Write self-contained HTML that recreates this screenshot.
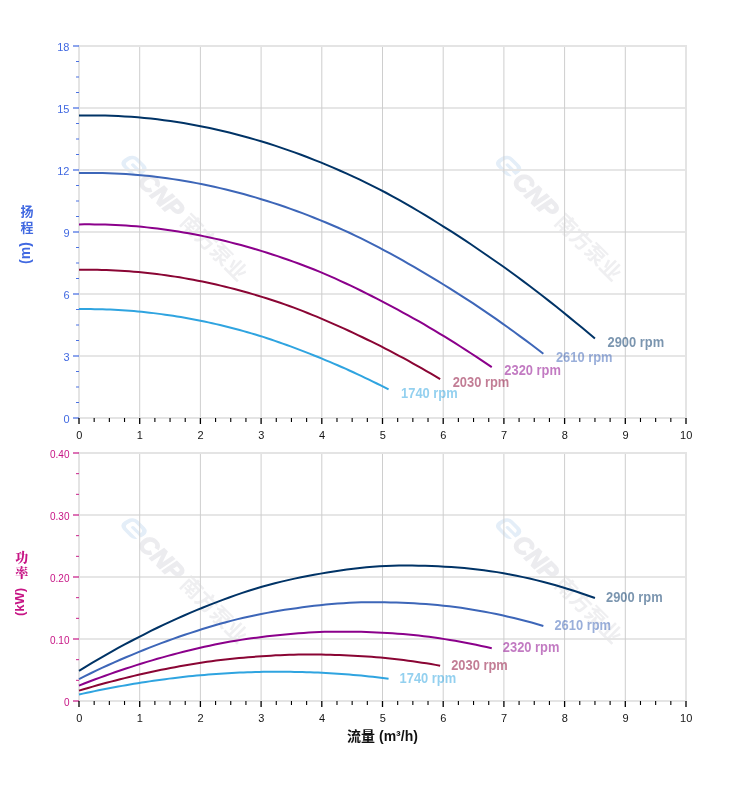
<!DOCTYPE html>
<html lang="zh-CN"><head><meta charset="utf-8"><title>性能曲线</title>
<style>html,body{margin:0;padding:0;background:#fff}body{width:752px;height:797px;overflow:hidden}svg{display:block}text{font-family:"Liberation Sans","Noto Sans CJK SC",sans-serif}.tk{font-size:11px;fill:#151515}.y1{font-size:11px;fill:#4169e1;text-anchor:end}.y2{font-size:10px;fill:#c71585;text-anchor:end}.xl{text-anchor:middle}.lb{font-size:14px;font-weight:bold;fill-opacity:.52}.wm text{font-weight:bold}</style></head><body>
<svg width="752" height="797" viewBox="0 0 752 797">
<rect width="752" height="797" fill="#fff"/>
<g class="wm" transform="translate(134.0 166.0) rotate(45)">
<g transform="skewX(-14)"><rect x="-11.5" y="-8.5" width="23" height="17" rx="6.5" fill="#e4eef8"/><rect x="-7.4" y="-4.9" width="14.8" height="9.8" rx="3.6" fill="#fff"/><rect x="-3.2" y="-1.6" width="12" height="3.2" rx="1.5" fill="#e4eef8"/><rect x="4.5" y="1.6" width="8" height="3.3" fill="#fff"/></g>
<text x="13.5" y="10" font-size="25" font-style="italic" fill="#ececef" stroke="#ececef" stroke-width="1.3">CNP</text>
<text x="72" y="8.5" font-size="21" fill="#efeff1">南方泵业</text>
</g>
<g class="wm" transform="translate(508.6 166.0) rotate(45)">
<g transform="skewX(-14)"><rect x="-11.5" y="-8.5" width="23" height="17" rx="6.5" fill="#e4eef8"/><rect x="-7.4" y="-4.9" width="14.8" height="9.8" rx="3.6" fill="#fff"/><rect x="-3.2" y="-1.6" width="12" height="3.2" rx="1.5" fill="#e4eef8"/><rect x="4.5" y="1.6" width="8" height="3.3" fill="#fff"/></g>
<text x="13.5" y="10" font-size="25" font-style="italic" fill="#ececef" stroke="#ececef" stroke-width="1.3">CNP</text>
<text x="72" y="8.5" font-size="21" fill="#efeff1">南方泵业</text>
</g>
<g class="wm" transform="translate(134.0 528.6) rotate(45)">
<g transform="skewX(-14)"><rect x="-11.5" y="-8.5" width="23" height="17" rx="6.5" fill="#e4eef8"/><rect x="-7.4" y="-4.9" width="14.8" height="9.8" rx="3.6" fill="#fff"/><rect x="-3.2" y="-1.6" width="12" height="3.2" rx="1.5" fill="#e4eef8"/><rect x="4.5" y="1.6" width="8" height="3.3" fill="#fff"/></g>
<text x="13.5" y="10" font-size="25" font-style="italic" fill="#ececef" stroke="#ececef" stroke-width="1.3">CNP</text>
<text x="72" y="8.5" font-size="21" fill="#efeff1">南方泵业</text>
</g>
<g class="wm" transform="translate(508.6 528.6) rotate(45)">
<g transform="skewX(-14)"><rect x="-11.5" y="-8.5" width="23" height="17" rx="6.5" fill="#e4eef8"/><rect x="-7.4" y="-4.9" width="14.8" height="9.8" rx="3.6" fill="#fff"/><rect x="-3.2" y="-1.6" width="12" height="3.2" rx="1.5" fill="#e4eef8"/><rect x="4.5" y="1.6" width="8" height="3.3" fill="#fff"/></g>
<text x="13.5" y="10" font-size="25" font-style="italic" fill="#ececef" stroke="#ececef" stroke-width="1.3">CNP</text>
<text x="72" y="8.5" font-size="21" fill="#efeff1">南方泵业</text>
</g>
<path d="M79.0 356.00 H686.0 M79.0 294.00 H686.0 M79.0 232.00 H686.0 M79.0 170.00 H686.0 M79.0 108.00 H686.0" stroke="#e6e6e6" stroke-width="2" fill="none"/>
<path d="M139.70 46.0 V418.0 M200.40 46.0 V418.0 M261.10 46.0 V418.0 M321.80 46.0 V418.0 M382.50 46.0 V418.0 M443.20 46.0 V418.0 M503.90 46.0 V418.0 M564.60 46.0 V418.0 M625.30 46.0 V418.0" stroke="#cecece" stroke-width="1" fill="none"/>
<rect x="79.0" y="46.0" width="607.0" height="372.0" fill="none" stroke="#e4e4e4" stroke-width="2"/>
<text class="y1" x="69.5" y="422.9">0</text>
<text class="y1" x="69.5" y="360.9">3</text>
<text class="y1" x="69.5" y="298.9">6</text>
<text class="y1" x="69.5" y="236.9">9</text>
<text class="y1" x="69.5" y="174.9">12</text>
<text class="y1" x="69.5" y="112.9">15</text>
<text class="y1" x="69.5" y="50.9">18</text>
<path d="M73.0 418.00 H79.0 M73.0 356.00 H79.0 M73.0 294.00 H79.0 M73.0 232.00 H79.0 M73.0 170.00 H79.0 M73.0 108.00 H79.0 M73.0 46.00 H79.0" stroke="#4169e1" stroke-opacity=".6" stroke-width="2" fill="none"/>
<path d="M76.0 402.50 H79.0 M76.0 387.00 H79.0 M76.0 371.50 H79.0 M76.0 340.50 H79.0 M76.0 325.00 H79.0 M76.0 309.50 H79.0 M76.0 278.50 H79.0 M76.0 263.00 H79.0 M76.0 247.50 H79.0 M76.0 216.50 H79.0 M76.0 201.00 H79.0 M76.0 185.50 H79.0 M76.0 154.50 H79.0 M76.0 139.00 H79.0 M76.0 123.50 H79.0 M76.0 92.50 H79.0 M76.0 77.00 H79.0 M76.0 61.50 H79.0" stroke="#4169e1" stroke-opacity=".95" stroke-width="1" fill="none"/>
<text class="tk xl" x="79.2" y="439.0">0</text>
<text class="tk xl" x="139.9" y="439.0">1</text>
<text class="tk xl" x="200.6" y="439.0">2</text>
<text class="tk xl" x="261.3" y="439.0">3</text>
<text class="tk xl" x="322.0" y="439.0">4</text>
<text class="tk xl" x="382.7" y="439.0">5</text>
<text class="tk xl" x="443.4" y="439.0">6</text>
<text class="tk xl" x="504.1" y="439.0">7</text>
<text class="tk xl" x="564.8" y="439.0">8</text>
<text class="tk xl" x="625.5" y="439.0">9</text>
<text class="tk xl" x="686.2" y="439.0">10</text>
<path d="M79.00 418.0 V424.0 M139.70 418.0 V424.0 M200.40 418.0 V424.0 M261.10 418.0 V424.0 M321.80 418.0 V424.0 M382.50 418.0 V424.0 M443.20 418.0 V424.0 M503.90 418.0 V424.0 M564.60 418.0 V424.0 M625.30 418.0 V424.0 M686.00 418.0 V424.0" stroke="#000" stroke-width="1.3" fill="none"/>
<path d="M94.17 418.0 V422.0 M109.35 418.0 V422.0 M124.53 418.0 V422.0 M154.88 418.0 V422.0 M170.05 418.0 V422.0 M185.22 418.0 V422.0 M215.58 418.0 V422.0 M230.75 418.0 V422.0 M245.93 418.0 V422.0 M276.28 418.0 V422.0 M291.45 418.0 V422.0 M306.62 418.0 V422.0 M336.98 418.0 V422.0 M352.15 418.0 V422.0 M367.33 418.0 V422.0 M397.68 418.0 V422.0 M412.85 418.0 V422.0 M428.02 418.0 V422.0 M458.38 418.0 V422.0 M473.55 418.0 V422.0 M488.73 418.0 V422.0 M519.08 418.0 V422.0 M534.25 418.0 V422.0 M549.43 418.0 V422.0 M579.77 418.0 V422.0 M594.95 418.0 V422.0 M610.12 418.0 V422.0 M640.48 418.0 V422.0 M655.65 418.0 V422.0 M670.83 418.0 V422.0" stroke="#000" stroke-width="1.1" fill="none"/>
<path d="M79.00 115.56 L85.53 115.46 L92.06 115.42 L98.59 115.47 L105.12 115.58 L111.66 115.77 L118.19 116.04 L124.72 116.38 L131.25 116.79 L137.78 117.28 L144.31 117.88 L150.84 118.56 L157.37 119.31 L163.90 120.15 L170.43 121.05 L176.97 122.03 L183.50 123.09 L190.03 124.21 L196.56 125.42 L203.09 126.69 L209.62 128.05 L216.15 129.47 L222.68 130.97 L229.21 132.55 L235.74 134.20 L242.28 135.92 L248.81 137.72 L255.34 139.60 L261.87 141.55 L268.40 143.57 L274.93 145.66 L281.46 147.84 L287.99 150.08 L294.52 152.40 L301.05 154.80 L307.59 157.27 L314.12 159.81 L320.65 162.43 L327.18 165.12 L333.71 167.89 L340.24 170.73 L346.77 173.64 L353.30 176.63 L359.83 179.70 L366.36 182.84 L372.90 186.05 L379.43 189.34 L385.96 192.76 L392.49 196.31 L399.02 199.93 L405.55 203.63 L412.08 207.40 L418.61 211.25 L425.14 215.17 L431.67 219.16 L438.21 223.23 L444.74 227.35 L451.27 231.47 L457.80 235.67 L464.33 239.94 L470.86 244.29 L477.39 248.71 L483.92 253.20 L490.45 257.76 L496.98 262.24 L503.52 266.80 L510.05 271.48 L516.58 276.24 L523.11 281.08 L529.64 285.99 L536.17 290.97 L542.70 296.01 L549.23 301.12 L555.76 306.31 L562.29 311.57 L568.83 316.85 L575.36 322.17 L581.89 327.57 L588.42 333.04 L594.95 338.59" stroke="#003366" stroke-width="2" fill="none" stroke-linejoin="round"/>
<text class="lb" x="607.5" y="346.8" fill="#003366" textLength="56.6" lengthAdjust="spacingAndGlyphs">2900 rpm</text>
<path d="M79.00 173.03 L84.88 172.94 L90.76 172.91 L96.63 172.95 L102.51 173.04 L108.39 173.20 L114.27 173.41 L120.15 173.69 L126.02 174.02 L131.90 174.42 L137.78 174.90 L143.66 175.45 L149.53 176.06 L155.41 176.74 L161.29 177.47 L167.17 178.26 L173.05 179.12 L178.92 180.03 L184.80 181.01 L190.68 182.04 L196.56 183.14 L202.44 184.29 L208.31 185.51 L214.19 186.79 L220.07 188.12 L225.95 189.52 L231.83 190.98 L237.70 192.49 L243.58 194.07 L249.46 195.71 L255.34 197.41 L261.22 199.17 L267.09 200.99 L272.97 202.87 L278.85 204.80 L284.73 206.80 L290.60 208.87 L296.48 210.99 L302.36 213.17 L308.24 215.41 L314.12 217.71 L319.99 220.07 L325.87 222.49 L331.75 224.98 L337.63 227.52 L343.51 230.12 L349.38 232.78 L355.26 235.56 L361.14 238.43 L367.02 241.36 L372.90 244.36 L378.77 247.41 L384.65 250.53 L390.53 253.71 L396.41 256.94 L402.29 260.24 L408.16 263.58 L414.04 266.91 L419.92 270.31 L425.80 273.77 L431.67 277.29 L437.55 280.87 L443.43 284.51 L449.31 288.20 L455.19 291.83 L461.06 295.53 L466.94 299.32 L472.82 303.18 L478.70 307.10 L484.58 311.07 L490.45 315.11 L496.33 319.19 L502.21 323.33 L508.09 327.53 L513.97 331.80 L519.84 336.07 L525.72 340.38 L531.60 344.75 L537.48 349.18 L543.36 353.68" stroke="#3d66b8" stroke-width="2" fill="none" stroke-linejoin="round"/>
<text class="lb" x="555.9" y="361.9" fill="#3d66b8" textLength="56.6" lengthAdjust="spacingAndGlyphs">2610 rpm</text>
<path d="M79.00 224.44 L84.22 224.37 L89.45 224.35 L94.67 224.38 L99.90 224.45 L105.12 224.58 L110.35 224.74 L115.57 224.96 L120.80 225.23 L126.02 225.54 L131.25 225.92 L136.47 226.36 L141.70 226.84 L146.92 227.37 L152.15 227.95 L157.37 228.58 L162.60 229.25 L167.82 229.98 L173.05 230.75 L178.27 231.56 L183.50 232.43 L188.72 233.34 L193.95 234.30 L199.17 235.31 L204.40 236.37 L209.62 237.47 L214.85 238.62 L220.07 239.82 L225.29 241.07 L230.52 242.36 L235.74 243.71 L240.97 245.09 L246.19 246.53 L251.42 248.02 L256.64 249.55 L261.87 251.13 L267.09 252.76 L272.32 254.43 L277.54 256.16 L282.77 257.93 L287.99 259.75 L293.22 261.61 L298.44 263.53 L303.67 265.49 L308.89 267.50 L314.12 269.55 L319.34 271.66 L324.57 273.85 L329.79 276.12 L335.02 278.44 L340.24 280.80 L345.47 283.22 L350.69 285.68 L355.91 288.19 L361.14 290.74 L366.36 293.35 L371.59 295.99 L376.81 298.62 L382.04 301.31 L387.26 304.04 L392.49 306.82 L397.71 309.65 L402.94 312.53 L408.16 315.44 L413.39 318.31 L418.61 321.23 L423.84 324.23 L429.06 327.28 L434.29 330.37 L439.51 333.52 L444.74 336.70 L449.96 339.93 L455.19 343.20 L460.41 346.52 L465.64 349.89 L470.86 353.27 L476.09 356.67 L481.31 360.13 L486.54 363.63 L491.76 367.18" stroke="#8b008b" stroke-width="2" fill="none" stroke-linejoin="round"/>
<text class="lb" x="504.3" y="375.4" fill="#8b008b" textLength="56.6" lengthAdjust="spacingAndGlyphs">2320 rpm</text>
<path d="M79.00 269.81 L83.57 269.75 L88.14 269.74 L92.72 269.76 L97.29 269.82 L101.86 269.91 L106.43 270.04 L111.00 270.21 L115.57 270.41 L120.15 270.65 L124.72 270.94 L129.29 271.27 L133.86 271.64 L138.43 272.05 L143.00 272.49 L147.58 272.98 L152.15 273.49 L156.72 274.04 L161.29 274.63 L165.86 275.26 L170.43 275.92 L175.01 276.62 L179.58 277.36 L184.15 278.13 L188.72 278.94 L193.29 279.78 L197.86 280.66 L202.44 281.58 L207.01 282.54 L211.58 283.53 L216.15 284.56 L220.72 285.62 L225.29 286.72 L229.87 287.86 L234.44 289.03 L239.01 290.24 L243.58 291.49 L248.15 292.77 L252.72 294.09 L257.30 295.44 L261.87 296.84 L266.44 298.27 L271.01 299.73 L275.58 301.23 L280.16 302.77 L284.73 304.35 L289.30 305.96 L293.87 307.63 L298.44 309.37 L303.01 311.15 L307.59 312.96 L312.16 314.81 L316.73 316.69 L321.30 318.61 L325.87 320.57 L330.44 322.56 L335.02 324.58 L339.59 326.60 L344.16 328.66 L348.73 330.75 L353.30 332.88 L357.87 335.05 L362.45 337.25 L367.02 339.48 L371.59 341.68 L376.16 343.91 L380.73 346.21 L385.30 348.54 L389.88 350.91 L394.45 353.32 L399.02 355.76 L403.59 358.23 L408.16 360.73 L412.73 363.27 L417.31 365.85 L421.88 368.44 L426.45 371.05 L431.02 373.69 L435.59 376.37 L440.16 379.09" stroke="#8a0534" stroke-width="2" fill="none" stroke-linejoin="round"/>
<text class="lb" x="452.7" y="387.3" fill="#8a0534" textLength="56.6" lengthAdjust="spacingAndGlyphs">2030 rpm</text>
<path d="M79.00 309.12 L82.92 309.08 L86.84 309.07 L90.76 309.09 L94.67 309.13 L98.59 309.20 L102.51 309.29 L106.43 309.42 L110.35 309.57 L114.27 309.74 L118.19 309.96 L122.10 310.20 L126.02 310.47 L129.94 310.77 L133.86 311.10 L137.78 311.45 L141.70 311.83 L145.62 312.24 L149.53 312.67 L153.45 313.13 L157.37 313.62 L161.29 314.13 L165.21 314.67 L169.13 315.24 L173.05 315.83 L176.97 316.45 L180.88 317.10 L184.80 317.78 L188.72 318.48 L192.64 319.20 L196.56 319.96 L200.48 320.74 L204.40 321.55 L208.31 322.38 L212.23 323.25 L216.15 324.14 L220.07 325.05 L223.99 325.99 L227.91 326.96 L231.83 327.96 L235.74 328.98 L239.66 330.03 L243.58 331.11 L247.50 332.21 L251.42 333.34 L255.34 334.50 L259.26 335.68 L263.17 336.91 L267.09 338.19 L271.01 339.50 L274.93 340.83 L278.85 342.18 L282.77 343.57 L286.69 344.98 L290.60 346.42 L294.52 347.88 L298.44 349.37 L302.36 350.85 L306.28 352.36 L310.20 353.90 L314.12 355.46 L318.04 357.05 L321.95 358.67 L325.87 360.31 L329.79 361.93 L333.71 363.57 L337.63 365.25 L341.55 366.97 L345.47 368.71 L349.38 370.48 L353.30 372.27 L357.22 374.08 L361.14 375.92 L365.06 377.79 L368.98 379.69 L372.90 381.59 L376.81 383.50 L380.73 385.45 L384.65 387.41 L388.57 389.41" stroke="#2fa4e0" stroke-width="2" fill="none" stroke-linejoin="round"/>
<text class="lb" x="401.1" y="397.6" fill="#2fa4e0" textLength="56.6" lengthAdjust="spacingAndGlyphs">1740 rpm</text>
<path d="M79.0 639.00 H686.0 M79.0 577.00 H686.0 M79.0 515.00 H686.0" stroke="#e6e6e6" stroke-width="2" fill="none"/>
<path d="M139.70 453.0 V701.0 M200.40 453.0 V701.0 M261.10 453.0 V701.0 M321.80 453.0 V701.0 M382.50 453.0 V701.0 M443.20 453.0 V701.0 M503.90 453.0 V701.0 M564.60 453.0 V701.0 M625.30 453.0 V701.0" stroke="#cecece" stroke-width="1" fill="none"/>
<rect x="79.0" y="453.0" width="607.0" height="248.0" fill="none" stroke="#e4e4e4" stroke-width="2"/>
<text class="y2" x="69.5" y="706.0">0</text>
<text class="y2" x="69.5" y="644.0">0.10</text>
<text class="y2" x="69.5" y="582.0">0.20</text>
<text class="y2" x="69.5" y="520.0">0.30</text>
<text class="y2" x="69.5" y="458.0">0.40</text>
<path d="M73.0 701.00 H79.0 M73.0 639.00 H79.0 M73.0 577.00 H79.0 M73.0 515.00 H79.0 M73.0 453.00 H79.0" stroke="#c71585" stroke-opacity=".6" stroke-width="2" fill="none"/>
<path d="M76.0 680.33 H79.0 M76.0 659.67 H79.0 M76.0 618.33 H79.0 M76.0 597.67 H79.0 M76.0 556.33 H79.0 M76.0 535.67 H79.0 M76.0 494.33 H79.0 M76.0 473.67 H79.0" stroke="#c71585" stroke-opacity=".95" stroke-width="1" fill="none"/>
<text class="tk xl" x="79.2" y="722.0">0</text>
<text class="tk xl" x="139.9" y="722.0">1</text>
<text class="tk xl" x="200.6" y="722.0">2</text>
<text class="tk xl" x="261.3" y="722.0">3</text>
<text class="tk xl" x="322.0" y="722.0">4</text>
<text class="tk xl" x="382.7" y="722.0">5</text>
<text class="tk xl" x="443.4" y="722.0">6</text>
<text class="tk xl" x="504.1" y="722.0">7</text>
<text class="tk xl" x="564.8" y="722.0">8</text>
<text class="tk xl" x="625.5" y="722.0">9</text>
<text class="tk xl" x="686.2" y="722.0">10</text>
<path d="M79.00 701.0 V707.0 M139.70 701.0 V707.0 M200.40 701.0 V707.0 M261.10 701.0 V707.0 M321.80 701.0 V707.0 M382.50 701.0 V707.0 M443.20 701.0 V707.0 M503.90 701.0 V707.0 M564.60 701.0 V707.0 M625.30 701.0 V707.0 M686.00 701.0 V707.0" stroke="#000" stroke-width="1.3" fill="none"/>
<path d="M94.17 701.0 V705.0 M109.35 701.0 V705.0 M124.53 701.0 V705.0 M154.88 701.0 V705.0 M170.05 701.0 V705.0 M185.22 701.0 V705.0 M215.58 701.0 V705.0 M230.75 701.0 V705.0 M245.93 701.0 V705.0 M276.28 701.0 V705.0 M291.45 701.0 V705.0 M306.62 701.0 V705.0 M336.98 701.0 V705.0 M352.15 701.0 V705.0 M367.33 701.0 V705.0 M397.68 701.0 V705.0 M412.85 701.0 V705.0 M428.02 701.0 V705.0 M458.38 701.0 V705.0 M473.55 701.0 V705.0 M488.73 701.0 V705.0 M519.08 701.0 V705.0 M534.25 701.0 V705.0 M549.43 701.0 V705.0 M579.77 701.0 V705.0 M594.95 701.0 V705.0 M610.12 701.0 V705.0 M640.48 701.0 V705.0 M655.65 701.0 V705.0 M670.83 701.0 V705.0" stroke="#000" stroke-width="1.1" fill="none"/>
<path d="M79.00 670.87 L85.53 666.85 L92.06 662.91 L98.59 659.06 L105.12 655.28 L111.66 651.59 L118.19 647.98 L124.72 644.45 L131.25 641.00 L137.78 637.63 L144.31 634.28 L150.84 630.98 L157.37 627.77 L163.90 624.63 L170.43 621.58 L176.97 618.61 L183.50 615.72 L190.03 612.91 L196.56 610.19 L203.09 607.51 L209.62 604.88 L216.15 602.32 L222.68 599.85 L229.21 597.46 L235.74 595.15 L242.28 592.92 L248.81 590.77 L255.34 588.71 L261.87 586.74 L268.40 584.95 L274.93 583.25 L281.46 581.63 L287.99 580.10 L294.52 578.64 L301.05 577.26 L307.59 575.97 L314.12 574.76 L320.65 573.63 L327.18 572.50 L333.71 571.43 L340.24 570.45 L346.77 569.54 L353.30 568.72 L359.83 567.98 L366.36 567.32 L372.90 566.74 L379.43 566.25 L385.96 565.90 L392.49 565.70 L399.02 565.59 L405.55 565.55 L412.08 565.59 L418.61 565.65 L425.14 565.78 L431.67 565.99 L438.21 566.28 L444.74 566.64 L451.27 567.04 L457.80 567.52 L464.33 568.09 L470.86 568.73 L477.39 569.46 L483.92 570.27 L490.45 571.16 L496.98 572.13 L503.52 573.18 L510.05 574.41 L516.58 575.72 L523.11 577.11 L529.64 578.58 L536.17 580.14 L542.70 581.77 L549.23 583.49 L555.76 585.29 L562.29 587.17 L568.83 589.17 L575.36 591.26 L581.89 593.44 L588.42 595.70 L594.95 598.04" stroke="#003366" stroke-width="2" fill="none" stroke-linejoin="round"/>
<text class="lb" x="606.0" y="602.0" fill="#003366" textLength="56.6" lengthAdjust="spacingAndGlyphs">2900 rpm</text>
<path d="M79.00 679.03 L84.88 676.10 L90.76 673.23 L96.63 670.42 L102.51 667.67 L108.39 664.98 L114.27 662.35 L120.15 659.77 L126.02 657.26 L131.90 654.80 L137.78 652.36 L143.66 649.96 L149.53 647.61 L155.41 645.33 L161.29 643.10 L167.17 640.94 L173.05 638.83 L178.92 636.79 L184.80 634.80 L190.68 632.85 L196.56 630.93 L202.44 629.06 L208.31 627.26 L214.19 625.52 L220.07 623.83 L225.95 622.21 L231.83 620.64 L237.70 619.14 L243.58 617.70 L249.46 616.40 L255.34 615.16 L261.22 613.98 L267.09 612.86 L272.97 611.80 L278.85 610.80 L284.73 609.85 L290.60 608.97 L296.48 608.15 L302.36 607.32 L308.24 606.54 L314.12 605.83 L319.99 605.17 L325.87 604.57 L331.75 604.03 L337.63 603.55 L343.51 603.13 L349.38 602.76 L355.26 602.51 L361.14 602.37 L367.02 602.28 L372.90 602.26 L378.77 602.29 L384.65 602.33 L390.53 602.42 L396.41 602.58 L402.29 602.79 L408.16 603.05 L414.04 603.34 L419.92 603.70 L425.80 604.11 L431.67 604.58 L437.55 605.11 L443.43 605.70 L449.31 606.35 L455.19 607.05 L461.06 607.82 L466.94 608.71 L472.82 609.67 L478.70 610.68 L484.58 611.76 L490.45 612.89 L496.33 614.08 L502.21 615.33 L508.09 616.65 L513.97 618.02 L519.84 619.47 L525.72 621.00 L531.60 622.59 L537.48 624.24 L543.36 625.95" stroke="#3d66b8" stroke-width="2" fill="none" stroke-linejoin="round"/>
<text class="lb" x="554.4" y="629.9" fill="#3d66b8" textLength="56.6" lengthAdjust="spacingAndGlyphs">2610 rpm</text>
<path d="M79.00 685.57 L84.22 683.51 L89.45 681.50 L94.67 679.52 L99.90 677.59 L105.12 675.70 L110.35 673.85 L115.57 672.04 L120.80 670.28 L126.02 668.56 L131.25 666.84 L136.47 665.15 L141.70 663.51 L146.92 661.90 L152.15 660.34 L157.37 658.82 L162.60 657.34 L167.82 655.90 L173.05 654.50 L178.27 653.13 L183.50 651.78 L188.72 650.48 L193.95 649.21 L199.17 647.99 L204.40 646.80 L209.62 645.66 L214.85 644.56 L220.07 643.51 L225.29 642.50 L230.52 641.58 L235.74 640.71 L240.97 639.88 L246.19 639.10 L251.42 638.35 L256.64 637.65 L261.87 636.99 L267.09 636.36 L272.32 635.79 L277.54 635.21 L282.77 634.66 L287.99 634.16 L293.22 633.69 L298.44 633.27 L303.67 632.89 L308.89 632.56 L314.12 632.26 L319.34 632.01 L324.57 631.83 L329.79 631.73 L335.02 631.67 L340.24 631.65 L345.47 631.67 L350.69 631.70 L355.91 631.77 L361.14 631.87 L366.36 632.02 L371.59 632.21 L376.81 632.41 L382.04 632.66 L387.26 632.95 L392.49 633.28 L397.71 633.65 L402.94 634.07 L408.16 634.52 L413.39 635.02 L418.61 635.56 L423.84 636.18 L429.06 636.85 L434.29 637.57 L439.51 638.32 L444.74 639.12 L449.96 639.96 L455.19 640.83 L460.41 641.76 L465.64 642.72 L470.86 643.74 L476.09 644.81 L481.31 645.93 L486.54 647.09 L491.76 648.29" stroke="#8b008b" stroke-width="2" fill="none" stroke-linejoin="round"/>
<text class="lb" x="502.8" y="652.3" fill="#8b008b" textLength="56.6" lengthAdjust="spacingAndGlyphs">2320 rpm</text>
<path d="M79.00 690.66 L83.57 689.29 L88.14 687.94 L92.72 686.61 L97.29 685.32 L101.86 684.05 L106.43 682.81 L111.00 681.60 L115.57 680.42 L120.15 679.26 L124.72 678.12 L129.29 676.98 L133.86 675.88 L138.43 674.81 L143.00 673.76 L147.58 672.74 L152.15 671.75 L156.72 670.79 L161.29 669.85 L165.86 668.93 L170.43 668.03 L175.01 667.15 L179.58 666.31 L184.15 665.48 L188.72 664.69 L193.29 663.93 L197.86 663.19 L202.44 662.48 L207.01 661.81 L211.58 661.20 L216.15 660.61 L220.72 660.06 L225.29 659.53 L229.87 659.03 L234.44 658.56 L239.01 658.12 L243.58 657.70 L248.15 657.31 L252.72 656.92 L257.30 656.56 L261.87 656.22 L266.44 655.91 L271.01 655.63 L275.58 655.37 L280.16 655.15 L284.73 654.95 L289.30 654.78 L293.87 654.66 L298.44 654.59 L303.01 654.55 L307.59 654.54 L312.16 654.56 L316.73 654.57 L321.30 654.62 L325.87 654.69 L330.44 654.79 L335.02 654.91 L339.59 655.05 L344.16 655.22 L348.73 655.41 L353.30 655.63 L357.87 655.88 L362.45 656.16 L367.02 656.46 L371.59 656.80 L376.16 657.16 L380.73 657.58 L385.30 658.03 L389.88 658.51 L394.45 659.01 L399.02 659.54 L403.59 660.10 L408.16 660.69 L412.73 661.31 L417.31 661.96 L421.88 662.64 L426.45 663.36 L431.02 664.11 L435.59 664.88 L440.16 665.69" stroke="#8a0534" stroke-width="2" fill="none" stroke-linejoin="round"/>
<text class="lb" x="451.2" y="669.7" fill="#8a0534" textLength="56.6" lengthAdjust="spacingAndGlyphs">2030 rpm</text>
<path d="M79.00 694.49 L82.92 693.62 L86.84 692.77 L90.76 691.94 L94.67 691.12 L98.59 690.33 L102.51 689.55 L106.43 688.78 L110.35 688.04 L114.27 687.31 L118.19 686.59 L122.10 685.88 L126.02 685.18 L129.94 684.50 L133.86 683.85 L137.78 683.20 L141.70 682.58 L145.62 681.97 L149.53 681.38 L153.45 680.81 L157.37 680.24 L161.29 679.69 L165.21 679.15 L169.13 678.63 L173.05 678.14 L176.97 677.65 L180.88 677.19 L184.80 676.74 L188.72 676.32 L192.64 675.93 L196.56 675.57 L200.48 675.22 L204.40 674.88 L208.31 674.57 L212.23 674.27 L216.15 673.99 L220.07 673.73 L223.99 673.49 L227.91 673.24 L231.83 673.01 L235.74 672.80 L239.66 672.61 L243.58 672.43 L247.50 672.27 L251.42 672.13 L255.34 672.00 L259.26 671.89 L263.17 671.82 L267.09 671.78 L271.01 671.75 L274.93 671.74 L278.85 671.75 L282.77 671.76 L286.69 671.79 L290.60 671.84 L294.52 671.90 L298.44 671.98 L302.36 672.06 L306.28 672.17 L310.20 672.29 L314.12 672.43 L318.04 672.59 L321.95 672.76 L325.87 672.95 L329.79 673.16 L333.71 673.39 L337.63 673.66 L341.55 673.94 L345.47 674.24 L349.38 674.56 L353.30 674.89 L357.22 675.25 L361.14 675.62 L365.06 676.01 L368.98 676.41 L372.90 676.84 L376.81 677.30 L380.73 677.77 L384.65 678.26 L388.57 678.76" stroke="#2fa4e0" stroke-width="2" fill="none" stroke-linejoin="round"/>
<text class="lb" x="399.6" y="682.8" fill="#2fa4e0" textLength="56.6" lengthAdjust="spacingAndGlyphs">1740 rpm</text>
<g font-weight="bold" fill="#4169e1" text-anchor="middle">
<text x="27" y="216.3" font-size="13">扬</text><text x="27" y="232.1" font-size="13">程</text>
<text transform="translate(30.3 253) rotate(-90)" font-size="14">(m)</text>
</g>
<g font-weight="bold" fill="#c71585" text-anchor="middle">
<text x="21.7" y="562" font-size="13" style="font-weight:900;font-family:'Liberation Serif','Noto Serif CJK SC',serif">功</text><text x="21.7" y="577.2" font-size="13" style="font-weight:900;font-family:'Liberation Serif','Noto Serif CJK SC',serif">率</text>
<text transform="translate(23.6 602) rotate(-90)" font-size="13">(kW)</text>
</g>
<text x="382.5" y="741" font-size="14" font-weight="bold" fill="#111" text-anchor="middle">流量 (m³/h)</text>
</svg></body></html>
